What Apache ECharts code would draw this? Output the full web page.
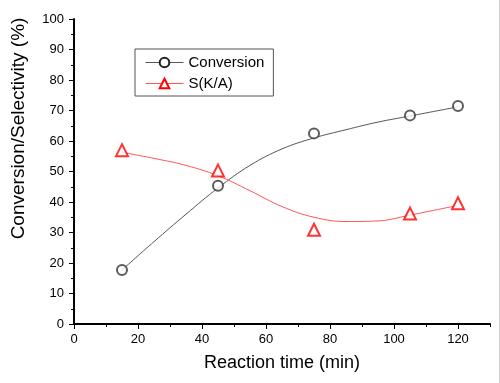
<!DOCTYPE html>
<html>
<head>
<meta charset="utf-8">
<script src="https://cdn.jsdelivr.net/npm/echarts@6/dist/echarts.min.js"></script>
<style>
  html, body { margin: 0; padding: 0; background: #fff; }
  #main { width: 500px; height: 383px; }
</style>
</head>
<body>
<div id="main"></div>
<script>
  // measured points
  var times = [15, 45, 75, 105, 120];
  var conversion = [17.7, 45.3, 62.5, 68.4, 71.5];
  var selectivity = [57.0, 50.3, 30.9, 36.2, 39.6];

  // fitted curves
  var fitTimes = [15, 25, 35, 45, 55, 65, 75, 85, 95, 105, 120];
  var conversionFit = [17.7, 27.0, 36.0, 44.6, 52.0, 57.4, 61.0, 63.7, 66.2, 68.2, 71.2];
  var selectivityFit = [56.3, 54.3, 52.0, 48.6, 43.7, 38.5, 35.0, 33.6, 33.8, 35.7, 38.9];

  var xMajorTicks = [0, 20, 40, 60, 80, 100, 120];

  function pairs(xs, ys) {
    return xs.map(function (x, i) { return [x, ys[i]]; });
  }

  var font = 'Arial, "Liberation Sans", sans-serif';
  var chart = echarts.init(document.getElementById('main'), null, { renderer: 'canvas' });

  var option = {
    backgroundColor: '#fff',
    animation: false,
    textStyle: { fontFamily: font, color: '#000' },
    grid: { left: 74, right: 10, top: 19, bottom: 59, outerBoundsMode: 'none' },
    legend: {
      data: ['Conversion', 'S(K/A)'],
      orient: 'vertical',
      left: 135,
      top: 49,
      padding: [6, 9, 5, 10],
      itemWidth: 38,
      itemHeight: 12,
      itemGap: 6,
      borderColor: '#555',
      borderWidth: 1,
      lineStyle: { width: 1 },
      textStyle: { fontFamily: font, fontSize: 15, color: '#000' }
    },
    xAxis: [{
      type: 'value',
      min: 0,
      max: 130,
      interval: 20,
      name: 'Reaction time (min)',
      nameLocation: 'middle',
      nameGap: 30,
      nameTextStyle: { fontFamily: font, fontSize: 18, color: '#000' },
      axisLine: { show: true, lineStyle: { color: '#000', width: 2 } },
      axisTick: { show: true, length: 5, customValues: xMajorTicks, lineStyle: { color: '#000', width: 1 } },
      axisLabel: { customValues: xMajorTicks, fontSize: 13, color: '#000', margin: 9, fontFamily: font },
      splitLine: { show: false }
    }, {
      // minor ticks every 10
      type: 'value',
      min: 0,
      max: 130,
      interval: 10,
      position: 'bottom',
      axisLine: { show: false },
      axisTick: { show: true, length: 3, lineStyle: { color: '#000', width: 1 } },
      axisLabel: { show: false },
      splitLine: { show: false }
    }],
    yAxis: {
      type: 'value',
      min: 0,
      max: 100,
      interval: 10,
      name: 'Conversion/Selectivity (%)',
      nameLocation: 'middle',
      nameGap: 46,
      // title sits above the middle of the axis in the original
      nameTextStyle: { fontFamily: font, fontSize: 19, color: '#000', padding: [0, 0, 0, 86] },
      axisLine: { show: true, lineStyle: { color: '#000', width: 2 } },
      axisTick: { show: true, length: 5, lineStyle: { color: '#000', width: 1 } },
      minorTick: { show: true, splitNumber: 2, length: 3, lineStyle: { color: '#000', width: 1 } },
      axisLabel: { fontSize: 13, color: '#000', margin: 10, fontFamily: font },
      splitLine: { show: false }
    },
    series: [
      {
        name: 'Conversion',
        type: 'line',
        data: pairs(fitTimes, conversionFit),
        smooth: 0.4,
        showSymbol: false,
        symbol: 'emptyCircle',
        symbolSize: 10,
        lineStyle: { color: '#555', width: 1 },
        itemStyle: { color: '#222', borderWidth: 1 },
        z: 2
      },
      {
        name: 'Conversion',
        type: 'scatter',
        data: pairs(times, conversion),
        symbol: 'emptyCircle',
        symbolSize: 10,
        itemStyle: { color: '#333', borderColor: '#333', borderWidth: 0.9 },
        z: 3
      },
      {
        name: 'S(K/A)',
        type: 'line',
        data: pairs(fitTimes, selectivityFit),
        smooth: 0.4,
        showSymbol: false,
        symbol: 'emptyTriangle',
        symbolSize: 12,
        lineStyle: { color: '#ff5555', width: 1 },
        itemStyle: { color: '#ff0000', borderWidth: 1.2 },
        z: 2
      },
      {
        name: 'S(K/A)',
        type: 'scatter',
        data: pairs(times, selectivity),
        symbol: 'emptyTriangle',
        symbolSize: 12,
        itemStyle: { color: '#ff0000', borderColor: '#ff0000', borderWidth: 1.3 },
        z: 3
      }
    ],
    graphic: [{
      type: 'line',
      shape: { x1: 499.5, y1: 0, x2: 499.5, y2: 383 },
      style: { stroke: '#d0d0d0', lineWidth: 1 },
      silent: true
    }]
  };

  chart.setOption(option);
</script>
</body>
</html>
